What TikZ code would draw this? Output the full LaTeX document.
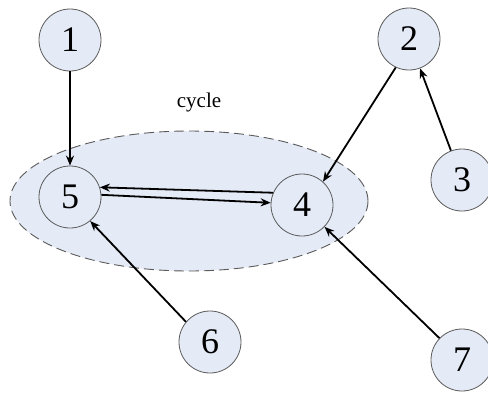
\documentclass[tikz,border=0pt]{standalone}
\usepackage{fontspec}
\setmainfont{Liberation Serif}
\usetikzlibrary{arrows.meta}
\usetikzlibrary{shapes.geometric}

\definecolor{nodefill}{RGB}{228,234,246}
\definecolor{rimgray}{RGB}{90,90,90}

\begin{document}
\begin{tikzpicture}[x=1pt, y=-1pt,
    vertex/.style={circle, draw=rimgray, line width=0.8pt, fill=nodefill, minimum size=62pt, inner sep=0pt, font=\fontsize{36}{40}\selectfont},
    edge/.style={line width=1.8pt, -{Stealth[length=10pt,width=8pt]}}]
  \useasboundingbox (0,0) rectangle (488,392);
  % the cycle region
  \node [ellipse, draw=rimgray, fill=nodefill, line width=0.9pt, dash pattern=on 10pt off 5pt, minimum width=358pt, minimum height=140pt, inner sep=0pt] (cyc) at (189,201) {};
  \node (cyclab) at (199,102) {\fontsize{21}{25}\selectfont cycle};
  % vertices
  \node [vertex] (n1) at (70,40) {1};
  \node [vertex] (n2) at (409,39) {2};
  \node [vertex] (n3) at (462,180) {3};
  \node [vertex] (n4) at (302,205) {4};
  \node [vertex] (n5) at (70,197) {5};
  \node [vertex] (n6) at (210,342) {6};
  \node [vertex] (n7) at (462,360) {7};
  % edges
  \draw [edge] (n1) -- (n5);
  \draw [edge] (n2.-115) -- (n4.48);
  \draw [edge] (n3) -- (n2);
  \draw [edge] (n4.157) -- (n5.18);
  \draw [edge] (n5.4) -- (n4.176);
  \draw [edge] (n6.140) -- (n5.-50);
  \draw [edge] (n7) -- (n4);
\end{tikzpicture}
\end{document}
